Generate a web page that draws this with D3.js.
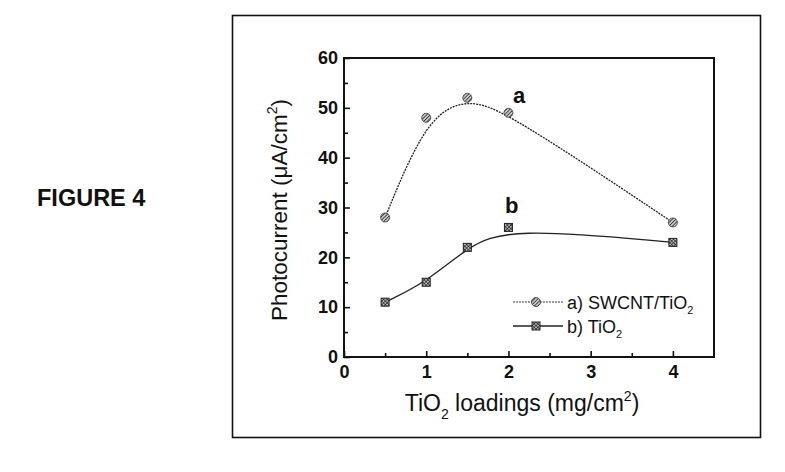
<!DOCTYPE html>
<html>
<head>
<meta charset="utf-8">
<script src="https://cdn.jsdelivr.net/npm/d3@7"></script>
<style>
  body { margin: 0; background: #fff; }
  svg { font-family: Arial, "Liberation Sans", sans-serif; }
</style>
</head>
<body>
<div id="chart"></div>
<script>
// data
const loadings = [0.5, 1, 1.5, 2, 4];
const swcntTiO2 = [28, 48, 52, 49, 27];
const tiO2 = [11, 15, 22, 26, 23];
const xTicks = [0, 1, 2, 3, 4];
const yTicks = [0, 10, 20, 30, 40, 50, 60];

const svg = d3.select("#chart")
    .append("svg")
    .attr("width", 785)
    .attr("height", 472);

// hatch patterns for the markers
const defs = svg.append("defs");
const hatch = defs.append("pattern")
    .attr("id", "hatch")
    .attr("width", 2.5)
    .attr("height", 2.5)
    .attr("patternUnits", "userSpaceOnUse")
    .attr("patternTransform", "rotate(45)");
hatch.append("rect").attr("width", 2.5).attr("height", 2.5).attr("fill", "#ccc");
hatch.append("line").attr("x1", 0).attr("y1", 0).attr("x2", 0).attr("y2", 2.5)
    .attr("stroke", "#111").attr("stroke-width", 1.4);

const grid = defs.append("pattern")
    .attr("id", "grid")
    .attr("width", 2.5)
    .attr("height", 2.5)
    .attr("patternUnits", "userSpaceOnUse")
    .attr("patternTransform", "rotate(45)");
grid.append("rect").attr("width", 2.5).attr("height", 2.5).attr("fill", "#bbb");
grid.append("path").attr("d", "M0,0V2.5M0,0H2.5")
    .attr("stroke", "#111").attr("stroke-width", 1.2);

// outer frame
svg.append("rect")
    .attr("x", 232.5).attr("y", 15.5)
    .attr("width", 528).attr("height", 422)
    .attr("fill", "none").attr("stroke", "#111").attr("stroke-width", 1.6);

svg.append("text")
    .attr("x", 37).attr("y", 206)
    .attr("font-size", "23.5px").attr("font-weight", "bold")
    .attr("fill", "#111")
    .text("FIGURE 4");

const margin = { left: 344, top: 58, right: 714, bottom: 357 };

const x = d3.scaleLinear().domain([0, 4.5]).range([margin.left, margin.right]);
const y = d3.scaleLinear().domain([0, 60]).range([margin.bottom, margin.top]);

const g = svg.append("g");

// axes with inward ticks
const xAxisMinor = d3.axisBottom(x).tickValues(d3.range(0.5, 4.5, 1)).tickSize(-4).tickFormat("");
const xAxis = d3.axisBottom(x).tickValues(xTicks).tickSize(-6).tickPadding(8).tickFormat(d3.format("d"));
const yAxisMinor = d3.axisLeft(y).tickValues(d3.range(5, 60, 10)).tickSize(-4).tickFormat("");
const yAxis = d3.axisLeft(y).tickValues(yTicks).tickSize(-6).tickPadding(6).tickFormat(d3.format("d"));

function styleAxis(sel) {
    sel.select(".domain").remove();
    sel.selectAll("line").attr("stroke", "#111").attr("stroke-width", 1.6);
    sel.selectAll("text")
        .attr("font-size", "18px")
        .attr("font-weight", "bold")
        .attr("fill", "#111")
        .attr("font-family", "Arial, 'Liberation Sans', sans-serif");
}

g.append("g").attr("transform", `translate(0,${margin.bottom})`).call(xAxisMinor).call(styleAxis);
g.append("g").attr("transform", `translate(0,${margin.bottom})`).call(xAxis).call(styleAxis);
g.append("g").attr("transform", `translate(${margin.left},0)`).call(yAxisMinor).call(styleAxis);
g.append("g").attr("transform", `translate(${margin.left},0)`).call(yAxis).call(styleAxis);

// plot box
g.append("rect")
    .attr("x", margin.left).attr("y", margin.top)
    .attr("width", margin.right - margin.left)
    .attr("height", margin.bottom - margin.top)
    .attr("fill", "none").attr("stroke", "#111").attr("stroke-width", 2);

// smoothed curves
const line = d3.line()
    .x(d => x(d[0]))
    .y(d => y(d[1]))
    .curve(d3.curveBasis);

const dataA = loadings.map((v, i) => [v, swcntTiO2[i]]);
const dataB = loadings.map((v, i) => [v, tiO2[i]]);

g.append("path")
    .attr("d", line(dataA))
    .attr("fill", "none")
    .attr("stroke", "#222")
    .attr("stroke-width", 1.3)
    .attr("stroke-dasharray", "2,1");

g.append("path")
    .attr("d", line(dataB))
    .attr("fill", "none")
    .attr("stroke", "#222")
    .attr("stroke-width", 1.3);

g.selectAll(".ptA")
    .data(dataA)
    .enter()
    .append("circle")
    .attr("class", "ptA")
    .attr("cx", d => x(d[0]))
    .attr("cy", d => y(d[1]))
    .attr("r", 4.5)
    .attr("fill", "url(#hatch)")
    .attr("stroke", "#333")
    .attr("stroke-width", 0.8);

g.selectAll(".ptB")
    .data(dataB)
    .enter()
    .append("rect")
    .attr("class", "ptB")
    .attr("x", d => x(d[0]) - 4)
    .attr("y", d => y(d[1]) - 4)
    .attr("width", 8)
    .attr("height", 8)
    .attr("fill", "url(#grid)")
    .attr("stroke", "#222")
    .attr("stroke-width", 1);

// curve labels
g.append("text")
    .attr("x", 513).attr("y", 103)
    .attr("font-size", "22px").attr("font-weight", "bold").attr("fill", "#111")
    .text("a");

g.append("text")
    .attr("x", 505).attr("y", 213)
    .attr("font-size", "22px").attr("font-weight", "bold").attr("fill", "#111")
    .text("b");

// legend
const legend = g.append("g").attr("transform", "translate(513,302)");

legend.append("line")
    .attr("x1", 0).attr("x2", 50).attr("y1", 0).attr("y2", 0)
    .attr("stroke", "#333").attr("stroke-width", 1.2).attr("stroke-dasharray", "2,1");
legend.append("circle")
    .attr("cx", 23).attr("cy", 0).attr("r", 4.5)
    .attr("fill", "url(#hatch)").attr("stroke", "#333").attr("stroke-width", 0.8);
const la = legend.append("text")
    .attr("x", 54).attr("y", 6.5)
    .attr("font-size", "18px").attr("fill", "#111");
la.append("tspan").text("a) SWCNT/TiO");
la.append("tspan").attr("font-size", "11px").attr("dy", 5).text("2");

legend.append("line")
    .attr("x1", 0).attr("x2", 50).attr("y1", 24).attr("y2", 24)
    .attr("stroke", "#222").attr("stroke-width", 1.6);
legend.append("rect")
    .attr("x", 19).attr("y", 20).attr("width", 8).attr("height", 8)
    .attr("fill", "url(#grid)").attr("stroke", "#222").attr("stroke-width", 1);
const lb = legend.append("text")
    .attr("x", 54).attr("y", 30.5)
    .attr("font-size", "18px").attr("fill", "#111");
lb.append("tspan").text("b) TiO");
lb.append("tspan").attr("font-size", "11px").attr("dy", 5).text("2");

// axis titles
const xt = svg.append("text")
    .attr("x", 522).attr("y", 411)
    .attr("text-anchor", "middle")
    .attr("font-size", "23px").attr("fill", "#111");
xt.append("tspan").text("TiO");
xt.append("tspan").attr("font-size", "14px").attr("dy", 8).text("2");
xt.append("tspan").attr("dy", -8).text(" loadings (mg/cm");
xt.append("tspan").attr("font-size", "14px").attr("dy", -10).text("2");
xt.append("tspan").attr("dy", 10).text(")");

const yt = svg.append("text")
    .attr("transform", "translate(287,210) rotate(-90)")
    .attr("text-anchor", "middle")
    .attr("font-size", "22.5px").attr("fill", "#111");
yt.append("tspan").text("Photocurrent (\u03BCA/cm");
yt.append("tspan").attr("font-size", "14px").attr("dy", -10).text("2");
yt.append("tspan").attr("dy", 10).text(")");
</script>
</body>
</html>
